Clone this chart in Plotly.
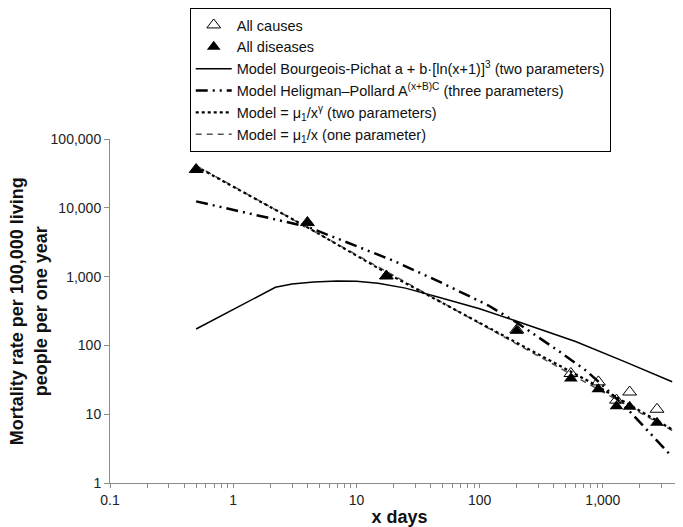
import plotly.graph_objects as go

# ---- data ----
x_days = [0.5, 4, 17.5, 200, 550, 920, 1290, 1650, 2750]
all_causes = [36000, 6100, 1020, 168, 39, 29.5, 16, 21, 11.8]
all_diseases = [36000, 6100, 1020, 163, 33, 23, 13, 12.8, 7.5]

bp_x = [0.5, 2.2, 3, 4.5, 7, 10, 15, 25, 45, 100, 200, 600, 1500, 3650]
bp_y = [173, 700, 780, 835, 865, 855, 800, 680, 510, 340, 225, 114, 58, 29.6]

hp_x = [0.5, 4, 20, 50, 118, 200, 450, 730, 1000, 1650, 3650]
hp_y = [12400, 5300, 1700, 800, 380, 215, 80, 43, 26, 11, 2.4]

pow_x = [0.5, 4, 18, 200, 770, 3650]
pow_y = [40000, 5200, 1100, 110, 30, 6]

inv_x = [0.5, 18, 200, 770, 3650]
inv_y = [41000, 1150, 104, 27, 5.8]

x_tick_vals = [0.1, 1, 10, 100, 1000]
x_tick_text = ["0.1", "1", "10", "100", "1,000"]
y_tick_vals = [1, 10, 100, 1000, 10000, 100000]
y_tick_text = ["1", "10", "100", "1,000", "10,000", "100,000"]

names = [
    "All causes",
    "All diseases",
    "Model Bourgeois-Pichat a + b·[ln(x+1)]<sup>3</sup> (two parameters)",
    "Model Heligman–Pollard A<sup>(x+B)C</sup> (three parameters)",
    "Model = μ<sub>1</sub>/x<sup>γ</sup> (two parameters)",
    "Model = μ<sub>1</sub>/x (one parameter)",
]
y_title = "<b>Mortality rate per 100,000 living<br>people per one year</b>"
x_title = "<b>x days</b>"

# minor tick positions on the x axis (2..9 times each decade)
minor_mult = [2, 3, 4, 5, 6, 7, 8, 9]
x_minor_ticks = [d * m for d in x_tick_vals for m in minor_mult if d * m <= 5000]

FONT = "Liberation Sans, Arial, sans-serif"

fig = go.Figure()

fig.add_trace(go.Scatter(x=bp_x, y=bp_y, mode="lines", name=names[2], legendrank=3,
                         line=dict(color="black", width=1.5)))
fig.add_trace(go.Scatter(x=hp_x, y=hp_y, mode="lines", name=names[3], legendrank=4,
                         line=dict(color="black", width=2.5, dash="12px,5px,2px,5px,2px,5px")))
fig.add_trace(go.Scatter(x=inv_x, y=inv_y, mode="lines", name=names[5], legendrank=6,
                         line=dict(color="#555555", width=1.5, dash="6px,5px")))
fig.add_trace(go.Scatter(x=pow_x, y=pow_y, mode="lines", name=names[4], legendrank=5,
                         line=dict(color="black", width=2.2, dash="dot")))
fig.add_trace(go.Scatter(x=x_days, y=all_causes, mode="markers", name=names[0], legendrank=1,
                         marker=dict(symbol="triangle-up-open", size=12, color="black",
                                     line=dict(width=1, color="black"))))
fig.add_trace(go.Scatter(x=x_days, y=all_diseases, mode="markers", name=names[1], legendrank=2,
                         marker=dict(symbol="triangle-up", size=12, color="black")))

axis_col = "#8c8c8c"
fig.update_xaxes(type="log", range=[-1, 3.699], showgrid=False, zeroline=False,
                 showline=True, linecolor=axis_col, linewidth=1,
                 ticks="outside", ticklen=4, tickcolor=axis_col,
                 tickmode="array", tickvals=x_tick_vals, ticktext=x_tick_text,
                 minor=dict(tickmode="array", tickvals=x_minor_ticks, ticks="outside",
                            ticklen=4, tickcolor=axis_col, showgrid=False),
                 tickfont=dict(family=FONT, size=14, color="#222222"),
                 title=dict(text=x_title, standoff=3,
                            font=dict(family=FONT, size=18, color="#111111")))
fig.update_yaxes(type="log", range=[0, 5], showgrid=False, zeroline=False,
                 showline=True, linecolor=axis_col, linewidth=1,
                 ticks="outside", ticklen=5, tickcolor=axis_col,
                 tickmode="array", tickvals=y_tick_vals, ticktext=y_tick_text,
                 tickfont=dict(family=FONT, size=14, color="#222222"))

fig.add_annotation(text=y_title, xref="paper", yref="paper",
                   x=(20 - 102) / 581, y=0.5, xanchor="center", yanchor="middle",
                   textangle=-90, showarrow=False,
                   font=dict(family=FONT, size=18, color="#111111"))

fig.update_layout(
    width=683, height=527,
    margin=dict(l=102, r=2, t=130, b=52),
    paper_bgcolor="white", plot_bgcolor="white",
    font=dict(family=FONT, color="#111111"),
    legend=dict(x=(182 - 102) / 581, xanchor="left", y=1 + 130 / 345, yanchor="top",
                bgcolor="white", bordercolor="black", borderwidth=1,
                font=dict(family=FONT, size=14.5, color="#111111"),
                tracegroupgap=0, itemwidth=36),
    showlegend=True,
)

fig.write_html("out.html")
